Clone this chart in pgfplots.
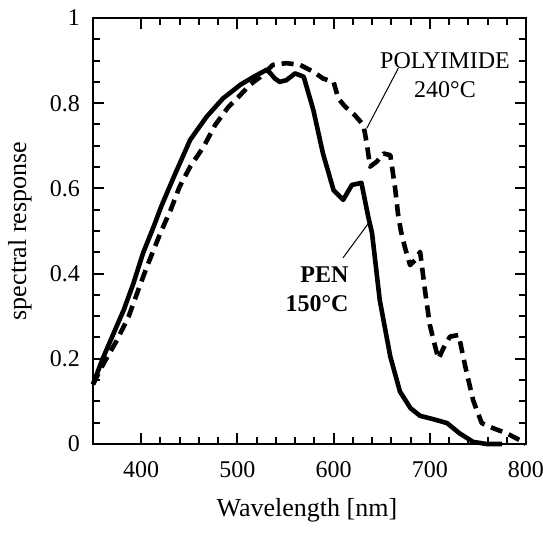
\documentclass[border=0pt]{standalone}
\usepackage{pgfplots}
\pgfplotsset{compat=1.18}
\usepackage{fontspec}
\setmainfont{Liberation Serif}

\begin{document}
\begin{tikzpicture}
\begin{axis}[
    name=ax,
    scale only axis,
    width=216.5pt, height=213pt,
    xmin=350, xmax=800,
    ymin=0, ymax=1,
    xtick={400,500,600,700,800},
    ytick={0,0.2,0.4,0.6,0.8,1},
    minor x tick num=4,
    minor y tick num=3,
    tick align=inside,
    tick pos=both,
    xticklabel pos=lower,
    yticklabel pos=left,
    major tick length=5.5pt,
    minor tick length=3.5pt,
    axis line style={line width=1.3pt},
    every tick/.style={black, line width=1pt},
    /pgf/number format/assume math mode=true,
    ticklabel style={font=\fontsize{12}{12}\selectfont},
    xticklabel style={yshift=-5pt},
    yticklabel style={xshift=-3pt},
    xlabel={Wavelength [nm]},
    ylabel={spectral response},
    label style={font=\fontsize{13}{13}\selectfont},
    xlabel style={at={(axis description cs:0.494,-0.155)}, anchor=center},
    ylabel style={at={(axis description cs:-0.169,0.5)}, anchor=center, rotate=0},
    clip=false,
]

% PEN 150 C
\addplot[black, line width=2.3pt, line join=round] coordinates {
(350,0.14) (360,0.2) (373,0.268) (382,0.315) (392,0.377) (402,0.448)
(413,0.51) (421,0.558) (434,0.627) (451,0.714) (468,0.768) (485,0.811)
(503,0.843) (517,0.862) (531,0.879) (539,0.858) (544,0.85) (551,0.854)
(560,0.87) (569,0.862) (579,0.784) (589,0.682) (600,0.596) (610,0.573)
(619,0.608) (629,0.613) (636,0.534) (640,0.495) (648,0.338) (659,0.205)
(669,0.123) (680,0.084) (690,0.066) (704,0.058) (718,0.049) (731,0.025)
(745,0.005) (759,0) (775,0)
};

% POLYIMIDE 240 C
\addplot[black, line width=2.3pt, line join=round, dash pattern=on 6pt off 3.5pt] coordinates {
(350,0.14) (361,0.189) (375,0.244) (387,0.299) (397,0.361) (406,0.416)
(420,0.495) (431,0.551) (440,0.604) (451,0.651) (465,0.698) (477,0.749)
(491,0.792) (503,0.819) (513,0.843) (524,0.862) (537,0.89) (551,0.894)
(565,0.89) (579,0.874) (589,0.858) (600,0.85) (605,0.811) (612,0.792)
(622,0.772) (631,0.749) (634.5,0.706) (638,0.651) (645,0.663) (652,0.682)
(659,0.678) (664,0.6) (667,0.54) (670,0.5) (674,0.463) (679.5,0.42)
(685,0.432) (690,0.451) (695,0.361) (700,0.28) (705,0.234) (709,0.2)
(714,0.224) (721,0.252) (730,0.256) (737,0.181) (745,0.103) (754,0.049)
(766,0.037) (780,0.025) (797,0.005) (800,0)
};

\draw[line width=0.5pt] (axis cs:634.5,0.741) -- (axis cs:667.3,0.882);
\draw[line width=0.5pt] (axis cs:609.8,0.437) -- (axis cs:637.9,0.523);

\node[align=center, font=\fontsize{12}{14.5}\selectfont, inner sep=0pt]
    at (axis cs:715.8,0.865) {POLYIMIDE\\240°C};
\node[align=right, font=\bfseries\fontsize{12}{14.5}\selectfont, inner sep=0pt]
    at (axis cs:582.8,0.363) {PEN\\150°C};
\end{axis}
\pgfresetboundingbox
\path (ax.south west) ++(-46.5pt,-45pt) rectangle ([shift={(8.5pt,9pt)}]ax.north east);
\end{tikzpicture}
\end{document}
